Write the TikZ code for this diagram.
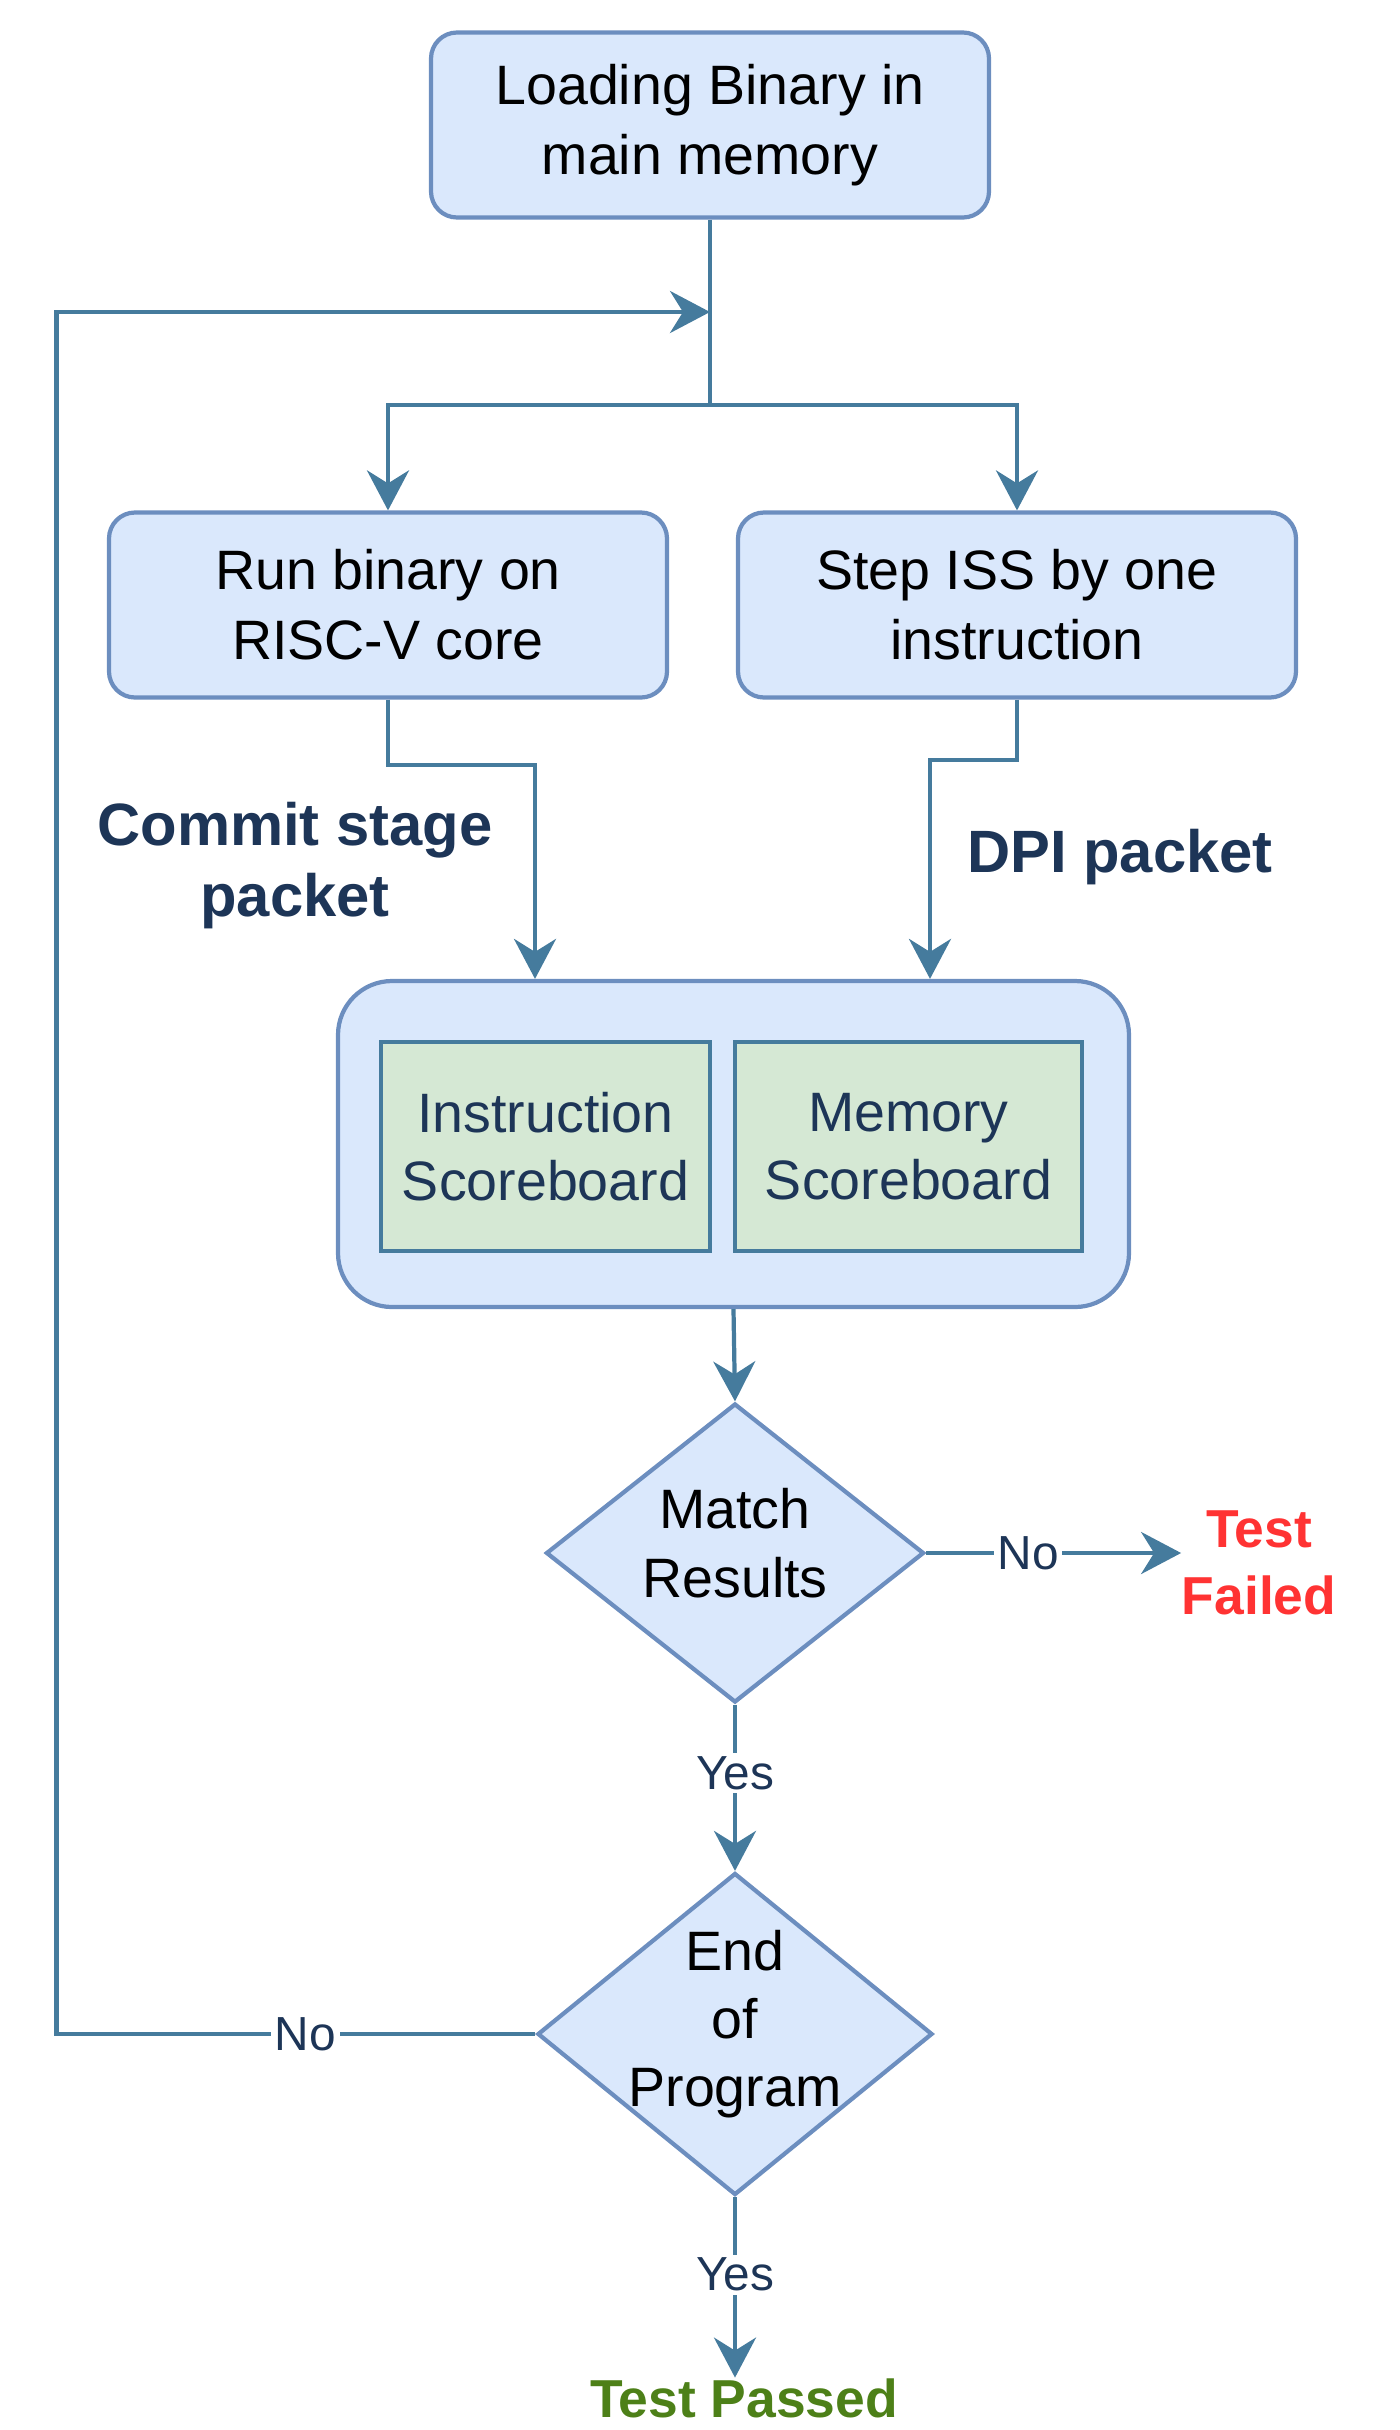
\documentclass[tikz,border=0pt]{standalone}
\usepackage{fontspec}
\setmainfont{Liberation Sans}
\usetikzlibrary{arrows.meta, shapes.geometric}

\definecolor{boxfill}{HTML}{DAE8FC}
\definecolor{boxline}{HTML}{6C8EBF}
\definecolor{sbfill}{HTML}{D5E8D4}
\definecolor{flowline}{HTML}{457B9D}
\definecolor{navy}{HTML}{1D3557}
\definecolor{failred}{HTML}{FF3333}
\definecolor{passgreen}{HTML}{4D8018}

\begin{document}
\begin{tikzpicture}[
    procbox/.style={rectangle, rounded corners=0.26cm, draw=boxline, fill=boxfill, line width=1.2pt,
        minimum width=5.58cm, minimum height=1.85cm, align=center, font=\fontsize{15.8}{19.9}\selectfont},
    sbbox/.style={rectangle, draw=flowline, fill=sbfill, line width=1.2pt, minimum height=2.09cm,
        align=center, text=navy, font=\fontsize{15.8}{19.5}\selectfont},
    decision/.style={diamond, draw=boxline, fill=boxfill, line width=1.2pt, inner sep=0pt},
    dtext/.style={align=center, font=\fontsize{15.8}{19.5}\selectfont},
    flow/.style={draw=flowline, line width=1.2pt},
    arr/.style={flow, -{Stealth[length=4mm, width=4.2mm, inset=1.3mm]}},
    yesno/.style={fill=white, text=navy, inner sep=1pt, font=\fontsize{13.6}{16}\selectfont},
    pktlabel/.style={align=center, text=navy, font=\bfseries\fontsize{17}{20.2}\selectfont},
    result/.style={align=center, inner sep=0pt, font=\bfseries\fontsize{15.2}{19.2}\selectfont}
]
\useasboundingbox (0,0) rectangle (14,-24.3);

\node (load) at (7.10,-1.25) [procbox] {Loading Binary in\\main memory};
\coordinate (junc) at (7.10,-3.12);
\coordinate (split) at (7.10,-4.05);
\node (run) at (3.88,-6.05) [procbox] {Run binary on\\RISC-V core};
\node (step) at (10.17,-6.05) [procbox] {Step ISS by one\\instruction};

\node (board) at (7.335,-11.44) [rectangle, rounded corners=0.54cm, draw=boxline, fill=boxfill,
    line width=1.2pt, minimum width=7.91cm, minimum height=3.26cm] {};
\node (insb) at (5.455,-11.465) [sbbox, minimum width=3.29cm] {Instruction\\Scoreboard};
\node (memsb) at (9.085,-11.465) [sbbox, minimum width=3.47cm] {Memory\\Scoreboard};

\node (commit) at (2.95,-8.66) [pktlabel] {Commit stage\\packet};
\node (dpi) at (11.20,-8.57) [pktlabel] {DPI packet};

\node (match) at (7.35,-15.53) [decision, minimum width=3.78cm, minimum height=2.99cm] {};
\node (matcht) at (7.35,-15.43) [dtext] {Match\\Results};
\node (fail) at (12.59,-15.63) [result, text=failred] {Test\\Failed};

\node (endp) at (7.35,-20.34) [decision, minimum width=3.95cm, minimum height=3.22cm] {};
\node (endt) at (7.35,-20.24) [dtext, font=\fontsize{15.8}{19.4}\selectfont] {End\\of\\Program};
\node (pass) at (7.44,-24.17) [result, anchor=base, text=passgreen] {Test Passed};

\draw[flow] (load.south) -- (junc) -- (split);
\draw[arr] (split) -| (run.north);
\draw[arr] (split) -| (step.north);
\draw[arr] (run.south) -- ++(0,-0.65) -| ([xshift=-1.985cm]board.north);
\draw[arr] (step.south) -- ++(0,-0.60) -| ([xshift=1.965cm]board.north);
\draw[arr] (board.south) -- (match.north);
\draw[arr] (match.east) -- node[pos=0.4, yesno] {No} (match.east -| fail.west);
\draw[arr] (match.south) -- node[pos=0.41, yesno] {Yes} (endp.north);
\draw[arr] (endp.south) -- node[pos=0.43, yesno] {Yes} (endp.south |- pass.north);
\draw[arr] (endp.west) -- node[pos=0.48, yesno] {No} ++(-4.79,0) |- (junc);
\end{tikzpicture}
\end{document}
